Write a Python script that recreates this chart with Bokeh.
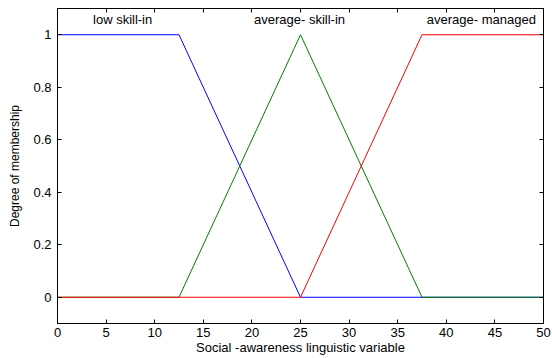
from bokeh.plotting import figure
from bokeh.models import LinearAxis, FixedTicker, Range1d, CustomJSTickFormatter
from bokeh.core.properties import value
from bokeh.embed import file_html
from bokeh.resources import INLINE

# membership function breakpoints
low_x = [0, 12.5, 25, 50]
low_y = [1, 1, 0, 0]
avg_x = [0, 12.5, 25, 37.5, 50]
avg_y = [0, 0, 1, 0, 0]
man_x = [0, 25, 37.5, 50]
man_y = [0, 0, 1, 1]

labels = ["low skill-in", "average- skill-in", "average- managed"]
label_x = [6.7, 24.9, 43.6]
label_y = [1.03, 1.03, 1.03]

x_ticks = [0, 5, 10, 15, 20, 25, 30, 35, 40, 45, 50]
y_ticks = [0, 0.2, 0.4, 0.6, 0.8, 1]

FONT = "Liberation Sans"

p = figure(width=552, height=358, output_backend="svg", toolbar_location=None,
           x_range=Range1d(0, 50), y_range=Range1d(-0.1, 1.1),
           min_border_left=57, min_border_right=9, min_border_top=8, min_border_bottom=35)
p.background_fill_color = "white"
p.border_fill_color = "white"
p.outline_line_color = "black"
p.outline_line_width = 1
p.xgrid.visible = False
p.ygrid.visible = False

p.line(low_x, low_y, color="blue", line_width=1)
p.line(avg_x, avg_y, color="green", line_width=1)
p.line(man_x, man_y, color="red", line_width=1)

p.text(x=label_x, y=label_y, text=labels, text_align="center", text_baseline="bottom",
       text_font=value(FONT), text_font_size="13px", text_color="black")

for ax in (p.xaxis[0], p.yaxis[0]):
    ax.major_tick_in = 4
    ax.major_tick_out = 0
    ax.minor_tick_line_color = None
    ax.axis_line_color = "black"
    ax.major_tick_line_color = "black"
    ax.major_label_text_font = FONT
    ax.major_label_text_font_size = "13px"
    ax.major_label_text_color = "black"
    ax.axis_label_text_font = FONT
    ax.axis_label_text_font_style = "normal"
    ax.axis_label_text_color = "black"

p.xaxis[0].ticker = FixedTicker(ticks=x_ticks)
p.yaxis[0].ticker = FixedTicker(ticks=y_ticks)
p.xaxis[0].major_label_standoff = 4
p.yaxis[0].major_label_standoff = 6
p.xaxis[0].axis_label = "Social -awareness linguistic variable"
p.xaxis[0].axis_label_text_font_size = "13px"
p.xaxis[0].axis_label_standoff = 0
p.yaxis[0].axis_label = "Degree of membership"
p.yaxis[0].axis_label_text_font_size = "12px"
p.yaxis[0].axis_label_standoff = 8

top = LinearAxis(ticker=FixedTicker(ticks=x_ticks), major_tick_in=4, major_tick_out=0,
                 minor_tick_line_color=None, formatter=CustomJSTickFormatter(code="return ''"),
                 major_label_standoff=0, axis_line_color="black")
right = LinearAxis(ticker=FixedTicker(ticks=y_ticks), major_tick_in=4, major_tick_out=0,
                   minor_tick_line_color=None, formatter=CustomJSTickFormatter(code="return ''"),
                   major_label_standoff=0, axis_line_color="black")
p.add_layout(top, "above")
p.add_layout(right, "right")

open("out.html", "w").write(file_html(p, INLINE))
